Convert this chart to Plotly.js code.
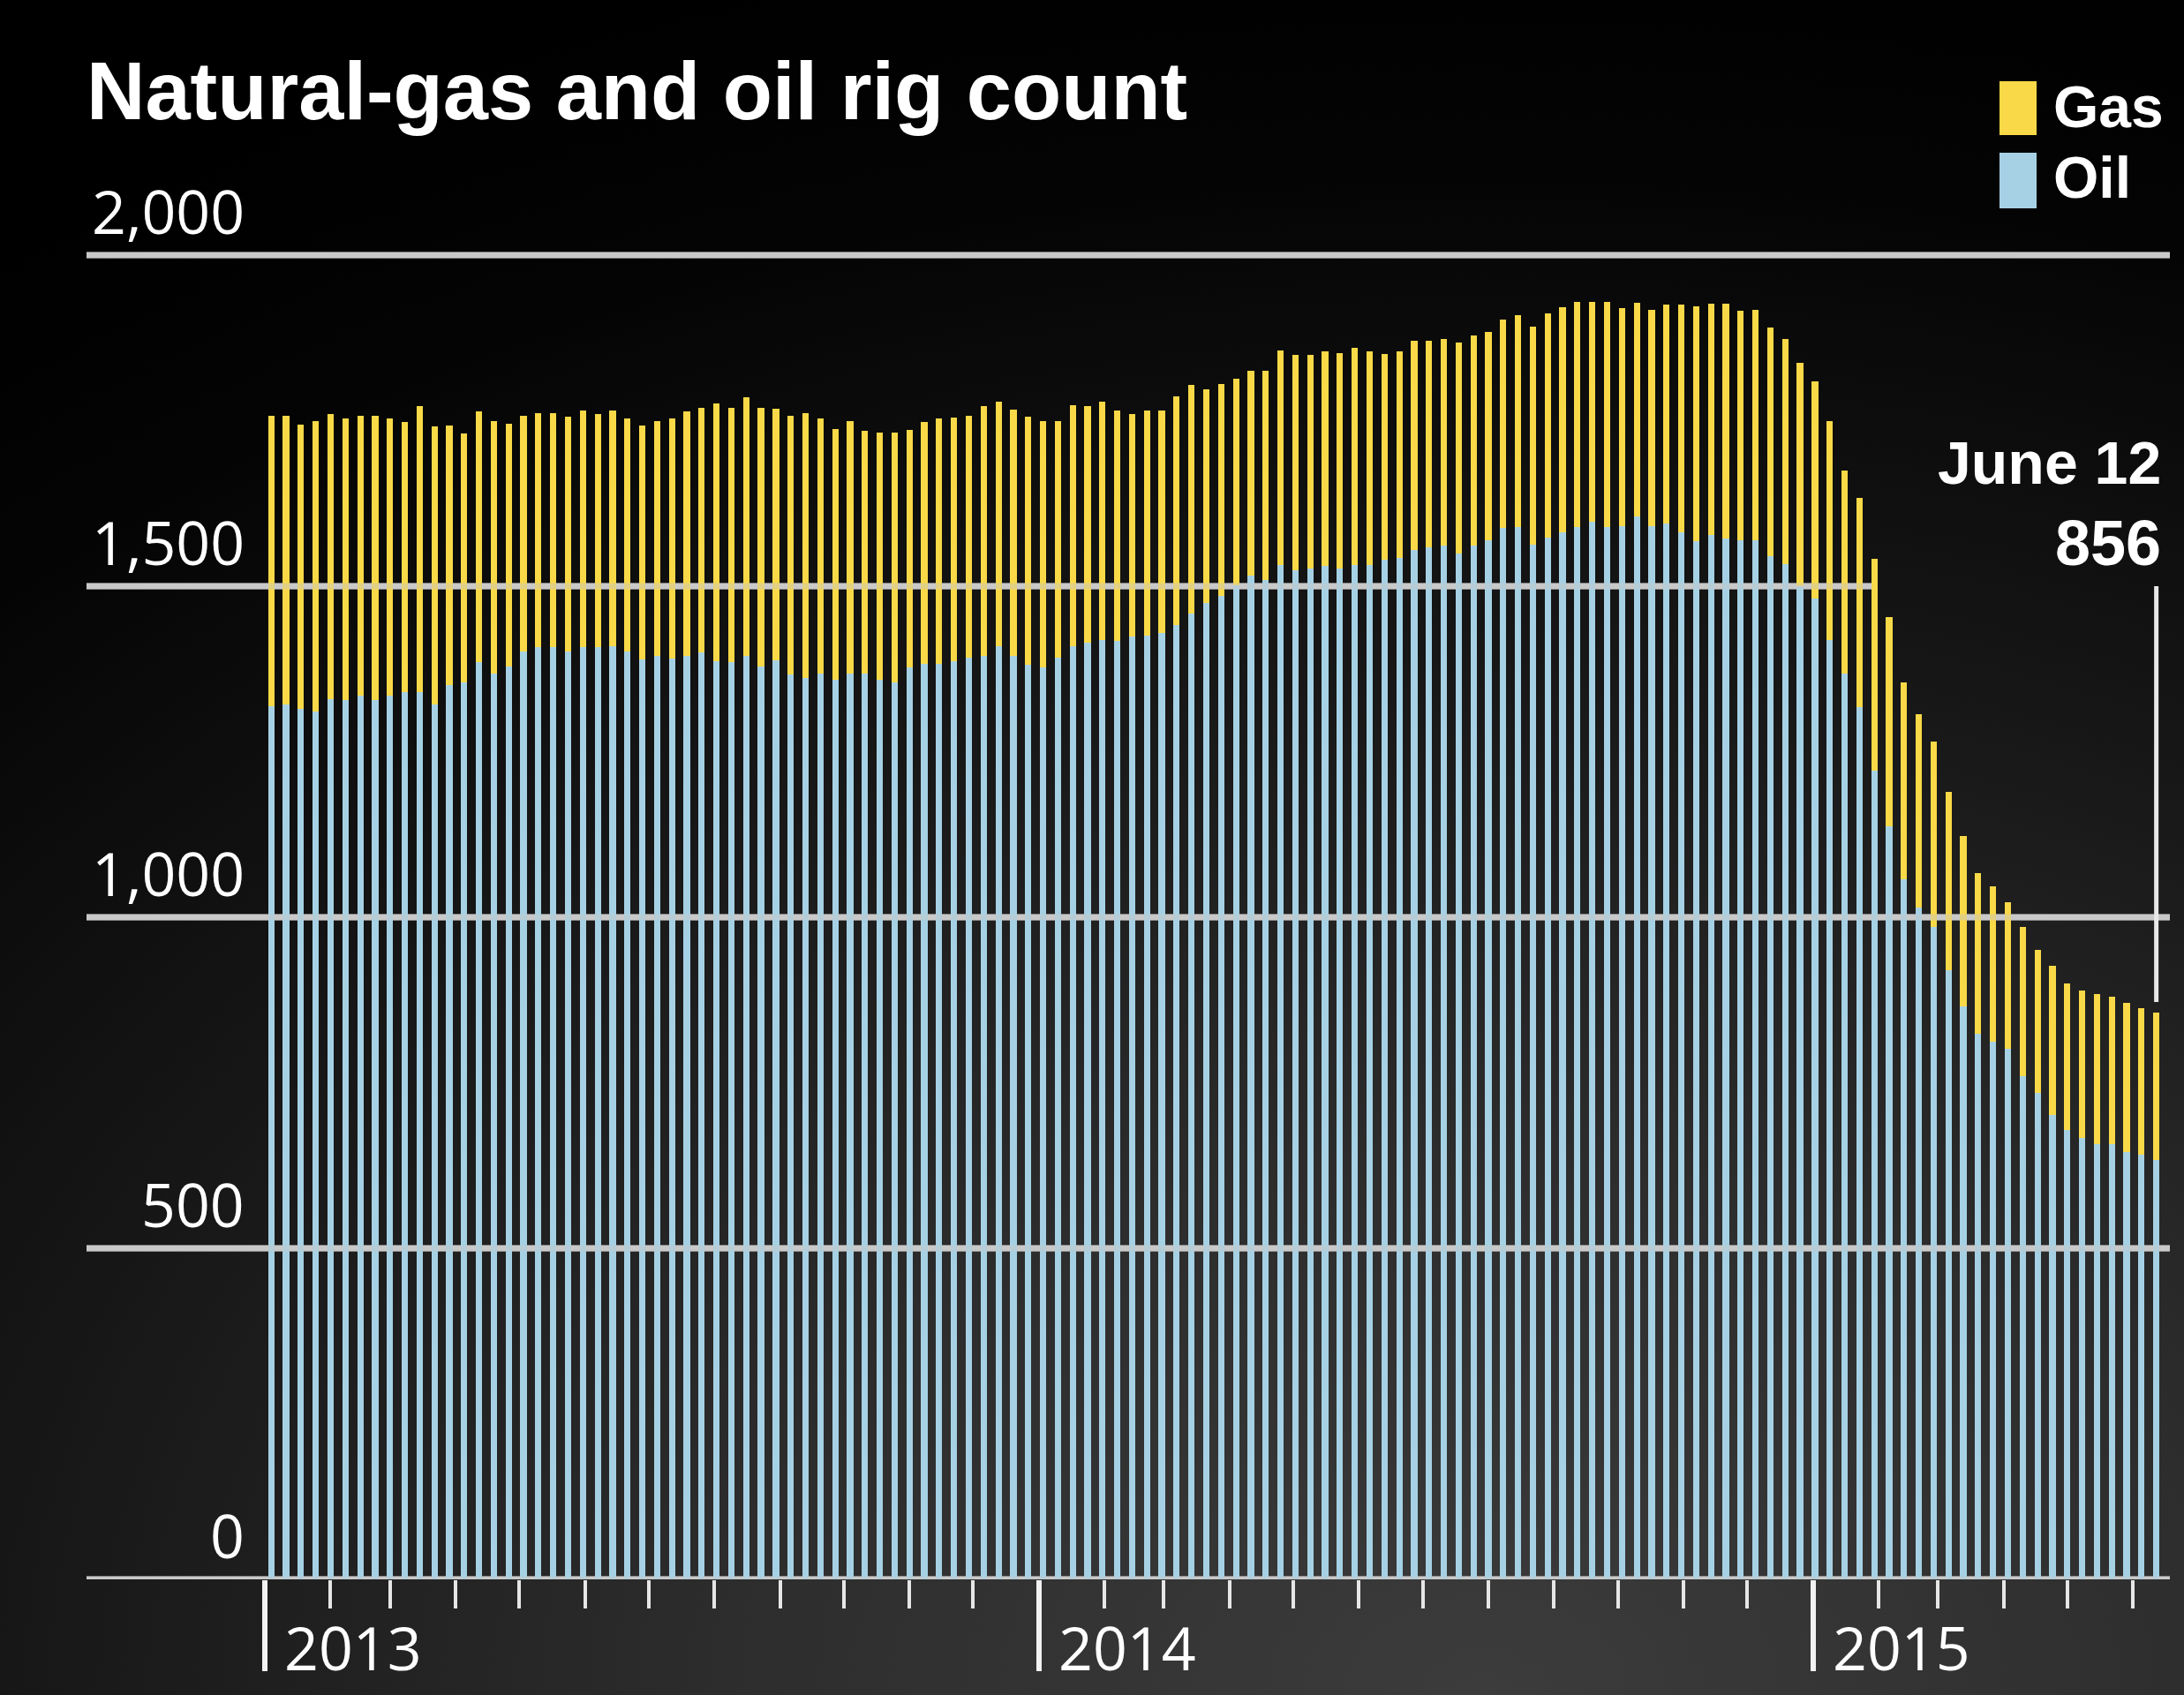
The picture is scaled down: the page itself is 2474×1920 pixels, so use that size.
<!DOCTYPE html>
<html>
<head>
<meta charset="utf-8">
<script src="https://cdn.plot.ly/plotly-3.0.1.min.js"></script>
<style>
  html, body { margin: 0; padding: 0; }
  body {
    width: 2474px; height: 1920px; overflow: hidden;
    background: radial-gradient(ellipse 115% 105% at 68% 100%, #3c3c3c 0%, #2d2d2d 30%, #161616 60%, #040404 86%, #000 100%);
  }
  #chart { width: 2474px; height: 1920px; }
</style>
</head>
<body>
<div id="chart"></div>
<script>
// ---- data (weekly, first bar = week of Jan 4, 2013; last = June 12, 2015) ----
const firstWeek = '2013-01-04';
const oil = [
  1319, 1322, 1315, 1311, 1330, 1328, 1335, 1328, 1335, 1340,
  1340, 1322, 1351, 1355, 1386, 1368, 1379, 1401, 1408, 1408,
  1401, 1408, 1408, 1410, 1401, 1390, 1395, 1391, 1395, 1400,
  1387, 1386, 1395, 1379, 1388, 1367, 1361, 1368, 1359, 1368,
  1368, 1359, 1355, 1377, 1383, 1383, 1387, 1392, 1395, 1410,
  1395, 1381, 1377, 1392, 1410, 1415, 1419, 1417, 1424, 1426,
  1430, 1441, 1459, 1475, 1486, 1502, 1516, 1510, 1532, 1524,
  1527, 1531, 1527, 1532, 1532, 1540, 1543, 1555, 1559, 1561,
  1550, 1561, 1570, 1588, 1589, 1563, 1574, 1581, 1590, 1598,
  1590, 1591, 1606, 1591, 1595, 1581, 1568, 1577, 1572, 1570,
  1570, 1546, 1533, 1500, 1482, 1419, 1368, 1317, 1222, 1138,
  1057, 1015, 986, 920, 866, 824, 812, 801, 760, 735,
  702, 679, 667, 657, 657, 646, 641, 634
];
const gas = [
  438, 435, 429, 438, 430, 426, 422, 429, 418, 408,
  432, 419, 392, 376, 378, 381, 367, 356, 353, 353,
  355, 357, 352, 356, 353, 353, 354, 362, 369, 370,
  389, 384, 391, 390, 380, 391, 400, 386, 378, 381,
  367, 373, 377, 359, 365, 371, 368, 365, 377, 369,
  372, 375, 372, 357, 363, 357, 360, 349, 336, 340,
  335, 346, 345, 323, 319, 311, 309, 315, 324, 325,
  323, 324, 325, 328, 323, 311, 312, 316, 312, 312,
  318, 318, 314, 315, 320, 329, 338, 341, 339, 331,
  339, 329, 322, 326, 330, 345, 355, 350, 355, 346,
  348, 345, 340, 338, 328, 330, 307, 316, 319, 315,
  298, 292, 280, 270, 257, 243, 235, 222, 226, 216,
  225, 221, 222, 227, 223, 225, 222, 222
];
const seriesNames = ['Gas', 'Oil'];
const yTicks = [0, 500, 1000, 1500, 2000];
const yearLabels = ['2013', '2014', '2015'];
const monthNames = ['January','February','March','April','May','June','July','August','September','October','November','December'];

// ---- derived ----
const DAY = 86400000;
const t0 = new Date(firstWeek + 'T00:00:00Z').getTime();
const weeks = oil.map((_, i) => new Date(t0 + i * 7 * DAY).toISOString().slice(0, 10));
const lastIdx = oil.length - 1;
const lastDate = new Date(weeks[lastIdx] + 'T00:00:00Z');
const lastTotal = oil[lastIdx] + gas[lastIdx];

// month-start tick positions from the first year through the last bar's month
const monthTicks = [];
for (let y = +yearLabels[0], m = 0; y < lastDate.getUTCFullYear() || (y === lastDate.getUTCFullYear() && m <= lastDate.getUTCMonth()); ) {
  monthTicks.push(y + '-' + String(m + 1).padStart(2, '0') + '-01');
  m++; if (m === 12) { m = 0; y++; }
}
const yearTicks = yearLabels.map(yr => yr + '-01-01');

// ---- geometry helpers (pixel -> paper) ----
const W = 2474, H = 1920;
const M = { l: 98, r: 16, t: 200, b: 131 };
const PW = W - M.l - M.r, PH = H - M.t - M.b;
const px = x => (x - M.l) / PW;
const py = y => (H - M.b - y) / PH;

const YELLOW = '#f9d947';
const BLUE = '#a6d1e4';
const GRID = '#c9c9c9';
const numFont = 'Open Sans, Liberation Sans, sans-serif';
const boldFont = 'Liberation Sans, Arial, sans-serif';

const traces = [
  { type: 'bar', name: seriesNames[1], x: weeks, y: oil, width: 3 * DAY,
    marker: { color: BLUE, line: { width: 0 } }, hoverinfo: 'x+y' },
  { type: 'bar', name: seriesNames[0], x: weeks, y: gas, width: 3 * DAY,
    marker: { color: YELLOW, line: { width: 0 } }, hoverinfo: 'x+y' }
];

const gridCut = { 1500: 0.857 };
const shapes = [];
yTicks.forEach(v => {
  const x1 = gridCut[v] !== undefined ? gridCut[v] : 1;
  shapes.push({ type: 'line', xref: 'paper', yref: 'y', x0: 0, x1: x1, y0: v, y1: v,
    layer: 'below', line: { color: GRID, width: 7 } });
  shapes.push({ type: 'line', xref: 'paper', yref: 'y', x0: 0, x1: x1, y0: v, y1: v,
    layer: 'above', opacity: 0.45, line: { color: GRID, width: 7 } });
});
// leader line for last value
shapes.push({ type: 'line', xref: 'x', yref: 'y', x0: weeks[lastIdx], x1: weeks[lastIdx],
  y0: lastTotal + 16, y1: 1500, line: { color: '#e8e8e8', width: 5 } });
// legend swatches
shapes.push({ type: 'rect', xref: 'paper', yref: 'paper', x0: px(2265), x1: px(2307), y0: py(153), y1: py(92),
  fillcolor: YELLOW, line: { width: 0 } });
shapes.push({ type: 'rect', xref: 'paper', yref: 'paper', x0: px(2265), x1: px(2307), y0: py(236), y1: py(173),
  fillcolor: BLUE, line: { width: 0 } });

const annotations = [];
yTicks.forEach(v => {
  annotations.push({ xref: 'paper', yref: 'y', x: px(279), y: v, xanchor: 'right', yanchor: 'bottom',
    yshift: 2, showarrow: false, text: v.toLocaleString('en-US'),
    font: { family: numFont, size: 68, color: '#ffffff' } });
});
yearLabels.forEach(yr => {
  annotations.push({ xref: 'x', yref: 'paper', x: yr + '-01-01', y: py(1817), xanchor: 'left', yanchor: 'top',
    xshift: 20, showarrow: false, text: yr,
    font: { family: numFont, size: 68, color: '#ffffff' } });
});
annotations.push({ xref: 'paper', yref: 'paper', x: px(2324), y: py(121), xanchor: 'left', yanchor: 'middle',
  showarrow: false, text: seriesNames[0], font: { family: boldFont, size: 66, color: '#ffffff', weight: 700 } });
annotations.push({ xref: 'paper', yref: 'paper', x: px(2324), y: py(201), xanchor: 'left', yanchor: 'middle',
  showarrow: false, text: seriesNames[1], font: { family: boldFont, size: 66, color: '#ffffff', weight: 700 } });
annotations.push({ xref: 'paper', yref: 'paper', x: px(2450), y: py(524), xanchor: 'right', yanchor: 'middle',
  showarrow: false, text: monthNames[lastDate.getUTCMonth()] + ' ' + lastDate.getUTCDate(),
  font: { family: boldFont, size: 68, color: '#ffffff', weight: 700 } });
annotations.push({ xref: 'paper', yref: 'paper', x: px(2450), y: py(615), xanchor: 'right', yanchor: 'middle',
  showarrow: false, text: String(lastTotal),
  font: { family: boldFont, size: 72, color: '#ffffff', weight: 700 } });

const layout = {
  width: W, height: H, autosize: false,
  margin: M,
  paper_bgcolor: 'rgba(0,0,0,0)',
  plot_bgcolor: 'rgba(0,0,0,0)',
  showlegend: false,
  barmode: 'stack',
  title: { text: 'Natural-gas and oil rig count', xref: 'container', yref: 'container',
    x: 98 / W, xanchor: 'left', y: 1 - 103 / H, yanchor: 'middle',
    font: { family: boldFont, size: 92, color: '#ffffff', weight: 700 } },
  xaxis: {
    type: 'date',
    range: ['2012-10-08 21:36', '2015-06-18 09:36'],
    showgrid: false, zeroline: false, showline: false,
    showticklabels: false,
    ticks: 'outside', tickmode: 'array', tickvals: yearTicks,
    ticklen: 103, tickwidth: 6, tickcolor: '#f2f2f2',
    minor: { ticks: 'outside', tickmode: 'array', tickvals: monthTicks,
      ticklen: 32, tickwidth: 4, tickcolor: '#e6e6e6', showgrid: false },
    fixedrange: true
  },
  yaxis: {
    range: [0, PH / 0.75],
    showgrid: false, zeroline: false, showline: false, showticklabels: false,
    ticks: '', fixedrange: true
  },
  shapes: shapes,
  annotations: annotations
};

Plotly.newPlot('chart', traces, layout, { displayModeBar: false, staticPlot: true });
</script>
</body>
</html>
